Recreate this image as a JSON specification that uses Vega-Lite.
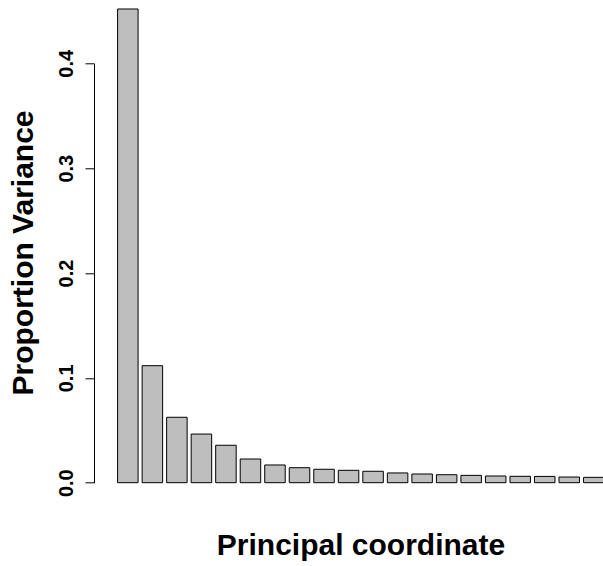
{
  "$schema": "https://vega.github.io/schema/vega-lite/v6.json",
  "usermeta": {"embedOptions": {"actions": false}},
  "autosize": "none",
  "padding": {"left": 94, "top": 63.3, "right": 0, "bottom": 83.3},
  "width": 509,
  "height": 419.4,
  "background": "white",
  "config": {
    "view": {"stroke": null},
    "font": "Liberation Sans"
  },
  "data": {
    "values": [
      {"pc": 1, "prop": 0.4518},
      {"pc": 2, "prop": 0.1116},
      {"pc": 3, "prop": 0.0624},
      {"pc": 4, "prop": 0.0464},
      {"pc": 5, "prop": 0.0357},
      {"pc": 6, "prop": 0.0226},
      {"pc": 7, "prop": 0.0169},
      {"pc": 8, "prop": 0.0143},
      {"pc": 9, "prop": 0.0128},
      {"pc": 10, "prop": 0.0118},
      {"pc": 11, "prop": 0.0109},
      {"pc": 12, "prop": 0.0093},
      {"pc": 13, "prop": 0.0083},
      {"pc": 14, "prop": 0.0076},
      {"pc": 15, "prop": 0.0070},
      {"pc": 16, "prop": 0.0064},
      {"pc": 17, "prop": 0.0061},
      {"pc": 18, "prop": 0.0060},
      {"pc": 19, "prop": 0.0054},
      {"pc": 20, "prop": 0.0051}
    ]
  },
  "mark": {"type": "bar", "width": 20.5, "fill": "#bebebe", "stroke": "#000000", "strokeWidth": 1},
  "encoding": {
    "x": {
      "field": "pc",
      "type": "quantitative",
      "scale": {"domain": [-0.176, 20.172], "nice": false, "zero": false},
      "axis": {
        "title": "Principal coordinate",
        "labels": false,
        "ticks": false,
        "domain": false,
        "grid": false,
        "titleFont": "Liberation Sans",
        "titleFontSize": 30,
        "titleFontWeight": "bold",
        "titleColor": "#000000",
        "titleX": 266.5,
        "titleY": 72,
        "titleAlign": "center",
        "titleBaseline": "alphabetic"
      }
    },
    "y": {
      "field": "prop",
      "type": "quantitative",
      "scale": {"domain": [0, 0.4], "nice": false, "zero": true},
      "axis": {
        "title": "Proportion Variance",
        "values": [0, 0.1, 0.2, 0.3, 0.4],
        "format": ".1f",
        "grid": false,
        "domainColor": "#000000",
        "domainWidth": 1,
        "tickColor": "#000000",
        "tickWidth": 1,
        "tickSize": 9,
        "labelFont": "Liberation Sans",
        "labelFontSize": 20,
        "labelFontWeight": "bold",
        "labelColor": "#000000",
        "labelAngle": 270,
        "labelAlign": "center",
        "labelBaseline": "alphabetic",
        "labelPadding": 13,
        "labelOverlap": false,
        "labelFlush": false,
        "titleFont": "Liberation Sans",
        "titleFontSize": 30,
        "titleFontWeight": "bold",
        "titleColor": "#000000",
        "titleAngle": 270,
        "titleAlign": "center",
        "titleBaseline": "alphabetic",
        "titleX": -61.3,
        "titleY": 189.2
      }
    }
  }
}
